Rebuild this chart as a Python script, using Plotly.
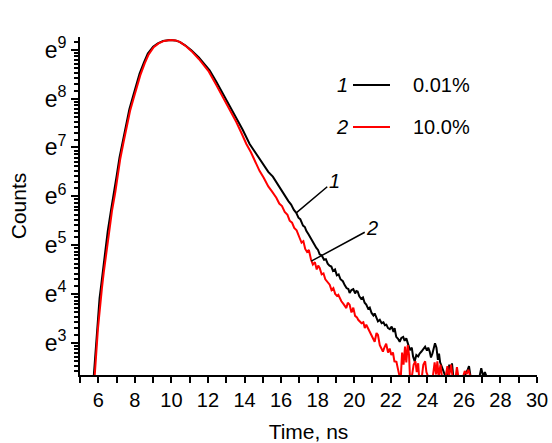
import numpy as np
import plotly.graph_objects as go

# ---- data: time (ns) and ln(counts) ----
t_black = [5.75, 5.85, 5.94, 6.00, 6.07, 6.15, 6.25, 6.40, 6.52, 6.70, 6.89, 7.02, 7.16, 7.35, 7.53, 7.70,
           7.89, 8.08, 8.26, 8.50, 8.71, 9.00, 9.26, 9.55, 9.90, 10.20, 10.45, 10.75, 11.09, 11.50, 12.09,
           12.45, 12.82, 13.20, 13.55, 13.90, 14.28, 14.65, 15.01, 15.30, 15.55, 15.75, 15.93, 16.10, 16.25,
           16.40, 16.55, 16.70, 16.83, 16.95, 17.05, 17.20, 17.30, 17.38, 17.50, 17.60, 17.70, 17.80, 17.93,
           18.02, 18.11, 18.22, 18.35, 18.45, 18.55, 18.65, 18.75, 18.84, 18.95, 19.05, 19.15, 19.25, 19.38,
           19.48, 19.58, 19.68, 19.75, 19.85, 19.95, 20.05, 20.12, 20.19, 20.28, 20.38, 20.48, 20.57, 20.66,
           20.76, 20.85, 20.95, 21.05, 21.12, 21.21, 21.30, 21.40, 21.50, 21.60, 21.68, 21.76, 21.85, 21.95,
           22.05, 22.15, 22.21, 22.30, 22.40, 22.49, 22.58, 22.68, 22.76, 22.85, 22.95, 23.05, 23.15, 23.22,
           23.31, 23.40, 23.50, 23.58, 23.68, 23.78, 23.88, 23.98, 24.05, 24.13, 24.20, 24.28, 24.35, 24.42,
           24.50, 24.58, 24.64, 24.70, 24.80, 24.90, 25.00, 25.12, 25.20, 25.28, 25.35, 25.42, 25.60, 26.00,
           26.18, 26.28, 26.36, 26.60, 26.85, 26.95, 27.05, 27.15, 27.25]
ln_black = [2.30, 2.85, 3.30, 3.62, 3.91, 4.15, 4.46, 4.90, 5.29, 5.72, 6.11, 6.45, 6.79, 7.15, 7.48, 7.78,
            8.03, 8.29, 8.51, 8.74, 8.92, 9.06, 9.13, 9.18, 9.20, 9.19, 9.16, 9.09, 8.99, 8.84, 8.58,
            8.35, 8.10, 7.86, 7.62, 7.36, 7.07, 6.86, 6.66, 6.50, 6.40, 6.28, 6.18, 6.06, 5.99,
            5.90, 5.83, 5.72, 5.66, 5.56, 5.53, 5.40, 5.37, 5.29, 5.22, 5.15, 5.10, 5.02, 4.94,
            4.90, 4.81, 4.79, 4.70, 4.71, 4.62, 4.58, 4.56, 4.47, 4.50, 4.38, 4.40, 4.30, 4.26,
            4.18, 4.12, 4.10, 4.02, 4.08, 4.10, 4.01, 4.06, 4.05, 3.95, 3.90, 3.93, 3.82, 3.78,
            3.70, 3.72, 3.61, 3.56, 3.60, 3.50, 3.44, 3.47, 3.40, 3.42, 3.36, 3.37, 3.30, 3.28,
            3.33, 3.22, 3.30, 3.12, 3.08, 3.02, 3.10, 3.12, 3.04, 3.09, 2.95, 2.85, 2.90, 2.72,
            2.62, 2.75, 2.72, 2.78, 2.82, 2.86, 2.92, 2.84, 2.90, 2.82, 2.70, 2.78, 2.92, 2.99,
            2.90, 2.65, 2.78, 2.60, 2.50, 2.40, 2.30, 2.30, 2.55, 2.40, 2.58, 2.30, 2.30, 2.30,
            2.42, 2.52, 2.32, 2.30, 2.30, 2.48, 2.32, 2.40, 2.30]

t_red = [5.80, 5.90, 5.98, 6.05, 6.12, 6.20, 6.30, 6.45, 6.57, 6.75, 6.93, 7.06, 7.20, 7.39, 7.57, 7.74,
         7.93, 8.12, 8.30, 8.54, 8.75, 9.03, 9.30, 9.60, 9.95, 10.25, 10.50, 10.80, 11.10, 11.50, 12.05,
         12.45, 12.80, 13.20, 13.55, 13.85, 14.10, 14.35, 14.60, 14.82, 15.05, 15.30, 15.50, 15.74, 15.90,
         16.05, 16.20, 16.35, 16.47, 16.60, 16.72, 16.85, 17.01, 17.12, 17.22, 17.32, 17.42, 17.52, 17.64,
         17.74, 17.85, 17.95, 18.03, 18.11, 18.22, 18.32, 18.42, 18.55, 18.66, 18.76, 18.86, 18.96, 19.06,
         19.13, 19.20, 19.30, 19.40, 19.50, 19.57, 19.65, 19.75, 19.85, 19.95, 20.05, 20.15, 20.22, 20.30,
         20.40, 20.50, 20.58, 20.66, 20.75, 20.85, 20.95, 21.03, 21.12, 21.22, 21.30, 21.40, 21.50, 21.57,
         21.65, 21.75, 21.85, 21.94, 22.03, 22.12, 22.20, 22.31, 22.40, 22.49, 22.55, 22.62, 22.70, 22.78,
         22.85, 22.93, 23.00, 23.05, 23.15, 23.25, 23.35, 23.42, 23.50, 23.55, 23.70, 23.78, 23.88, 23.95,
         24.05, 24.30, 24.40, 24.48, 24.55, 24.62, 24.72, 24.80, 25.00, 25.10, 25.18, 25.30, 25.38, 25.55,
         25.62, 25.70, 25.95, 26.05, 26.15, 26.25, 26.35]
ln_red = [2.30, 2.90, 3.28, 3.55, 3.85, 4.12, 4.44, 4.88, 5.26, 5.70, 6.08, 6.42, 6.76, 7.12, 7.45, 7.75,
          8.00, 8.26, 8.48, 8.72, 8.90, 9.05, 9.13, 9.18, 9.20, 9.19, 9.15, 9.07, 8.97, 8.81, 8.55,
          8.28, 8.04, 7.78, 7.52, 7.28, 7.07, 6.90, 6.70, 6.52, 6.38, 6.20, 6.10, 5.97, 5.85,
          5.80, 5.68, 5.62, 5.50, 5.46, 5.35, 5.30, 5.15, 5.05, 5.08, 4.92, 4.86, 4.90, 4.70,
          4.60, 4.65, 4.50, 4.58, 4.53, 4.40, 4.42, 4.30, 4.25, 4.19, 4.08, 4.12, 4.00, 3.96,
          3.98, 3.91, 3.85, 3.80, 3.74, 3.71, 3.82, 3.78, 3.62, 3.72, 3.55, 3.52, 3.47, 3.43,
          3.40, 3.42, 3.30, 3.37, 3.30, 3.20, 3.12, 3.09, 3.02, 3.20, 3.16, 2.95, 2.88, 2.82,
          2.90, 2.98, 2.80, 2.88, 2.75, 2.80, 2.62, 2.61, 2.45, 2.30, 2.30, 2.80, 2.55, 2.92,
          2.60, 2.95, 2.75, 2.30, 2.30, 2.55, 2.62, 2.40, 2.58, 2.30, 2.30, 2.55, 2.62, 2.40,
          2.30, 2.30, 2.60, 2.35, 2.62, 2.30, 2.55, 2.30, 2.30, 2.52, 2.30, 2.55, 2.30, 2.30,
          2.50, 2.30, 2.30, 2.42, 2.36, 2.45, 2.30]

series_names = ["0.01%", "10.0%"]
series_labels = ["1", "2"]
series_colors = ["#000000", "#ff0000"]

x_major_ticks = [6, 8, 10, 12, 14, 16, 18, 20, 22, 24, 26, 28, 30]
y_major_powers = [3, 4, 5, 6, 7, 8, 9]

# ---- figure ----
FONT = "Liberation Sans, Arial, sans-serif"
counts_black = np.exp(np.array(ln_black))
counts_red = np.exp(np.array(ln_red))

fig = go.Figure()
fig.add_trace(go.Scatter(x=t_black, y=counts_black, mode="lines", name=series_names[0],
                         line=dict(color=series_colors[0], width=2), showlegend=False))
fig.add_trace(go.Scatter(x=t_red, y=counts_red, mode="lines", name=series_names[1],
                         line=dict(color=series_colors[1], width=2), showlegend=False))

y_tickvals = [float(np.exp(k)) for k in y_major_powers]
y_ticktext = [f"e<sup>{k}</sup>" for k in y_major_powers]
y_minor = []
for k in range(2, 10):
    for j in range(1, 10):
        y_minor.append(float(np.exp(k) * (1 + j * (np.e - 1) / 10)))

ln_lo, ln_hi = 2.34, 9.26
fig.update_yaxes(type="log", range=[ln_lo / np.log(10), ln_hi / np.log(10)], automargin=False,
                 tickmode="array", tickvals=y_tickvals, ticktext=y_ticktext,
                 ticks="outside", ticklen=7, tickwidth=2, tickcolor="black",
                 minor=dict(tickmode="array", tickvals=y_minor, ticks="outside", ticklen=4,
                            tickwidth=1.5, tickcolor="black", showgrid=False),
                 showline=True, linecolor="black", linewidth=2, showgrid=False, zeroline=False,
                 tickfont=dict(family=FONT, size=23, color="black"),
                 title=dict(text="Counts", font=dict(family=FONT, size=21, color="black"), standoff=12))
fig.update_xaxes(range=[5, 30], tickmode="array", tickvals=x_major_ticks, automargin=False,
                 ticks="outside", ticklen=6, tickwidth=2, tickcolor="black",
                 minor=dict(dtick=1, tick0=5, ticks="outside", ticklen=6, tickwidth=2,
                            tickcolor="black", showgrid=False),
                 showline=True, linecolor="black", linewidth=2, showgrid=False, zeroline=False,
                 tickfont=dict(family=FONT, size=20, color="black"),
                 title=dict(text="Time, ns", font=dict(family=FONT, size=21, color="black"), standoff=18))

W, H = 552, 443
ML, MR, MT, MB = 80, 15, 37, 68
PW, PH = W - ML - MR, H - MT - MB


def px(x):
    return (x - ML) / PW


def py(y):
    return (H - MB - y) / PH


# legend: label numbers, line samples and names
legend_rows = [85, 127]
annotations = []
shapes = []
for lbl, name, col, yy in zip(series_labels, series_names, series_colors, legend_rows):
    annotations.append(dict(x=px(350), y=py(yy), xref="paper", yref="paper", text=f"<i>{lbl}</i>",
                            showarrow=False, xanchor="right", yanchor="middle",
                            font=dict(family=FONT, size=20, color="black")))
    shapes.append(dict(type="line", xref="paper", yref="paper", x0=px(353), x1=px(390),
                       y0=py(yy), y1=py(yy), line=dict(color=col, width=2)))
    annotations.append(dict(x=px(411), y=py(yy), xref="paper", yref="paper", text=name,
                            showarrow=False, xanchor="left", yanchor="middle",
                            font=dict(family=FONT, size=20, color="black")))

# pointer labels on the curves
pointer_at = [(16.83, 5.66, 38, -32), (17.65, 4.67, 61, -33)]
for lbl, (tt, ll, axp, ayp) in zip(series_labels, pointer_at):
    annotations.append(dict(x=tt, y=ll / np.log(10), xref="x", yref="y", text=f"<i>{lbl}</i>",
                            showarrow=True, arrowhead=0, arrowwidth=1.5, arrowcolor="black",
                            ax=axp, ay=ayp, standoff=0,
                            font=dict(family=FONT, size=20, color="black")))

fig.update_layout(width=W, height=H, margin=dict(l=ML, r=MR, t=MT, b=MB),
                  paper_bgcolor="white", plot_bgcolor="white",
                  annotations=annotations, shapes=shapes, showlegend=False)

fig.write_html("out.html")
